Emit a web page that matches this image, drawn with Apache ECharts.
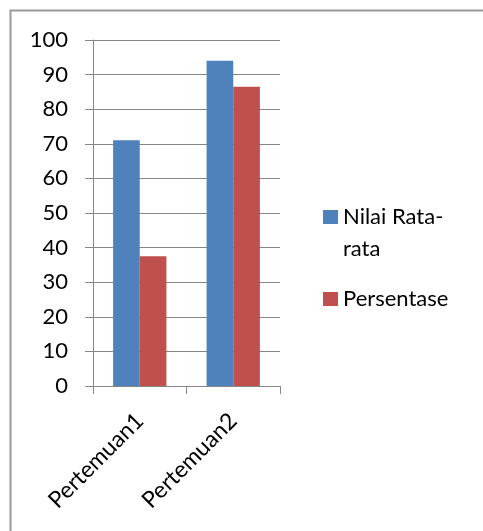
<!DOCTYPE html>
<html>
<head>
<meta charset="utf-8">
<script src="https://cdn.jsdelivr.net/npm/echarts@6/dist/echarts.min.js"></script>
<style>
  html, body { margin: 0; padding: 0; background: #ffffff; }
  #chart { width: 483px; height: 531px; }
</style>
</head>
<body>
<div id="chart"></div>
<script>
// Meeting categories and the two measured series
const categories = ['Pertemuan1', 'Pertemuan2'];
const nilaiRataRata = [71, 94];
const persentase = [37.5, 86.5];
const yTicks = { min: 0, max: 100, interval: 10 };

const FONT = 'Lato';
const GRAY = '#868686';

const chart = echarts.init(document.getElementById('chart'), null, { renderer: 'canvas' });

const legendText = { fontFamily: FONT, fontSize: 22, color: '#000', lineHeight: 32 };

chart.setOption({
  backgroundColor: '#ffffff',
  animation: false,
  textStyle: { fontFamily: FONT, color: '#000000' },
  graphic: [{
    // chart-area frame: only its top and left edges fall inside the page
    type: 'polyline',
    shape: { points: [[10.5, 540], [10.5, 10.5], [500, 10.5]] },
    style: { fill: 'none', stroke: '#9a9a9a', lineWidth: 2 },
    silent: true
  }],
  grid: { left: 93, top: 40, right: 203, bottom: 145, containLabel: false },
  legend: [{
    orient: 'vertical',
    left: 318,
    top: 164,
    itemWidth: 15,
    itemHeight: 14,
    icon: 'rect',
    data: ['Nilai Rata-rata'],
    // wrapped label; the leading blank line keeps the swatch level with the first line
    formatter: () => '\nNilai Rata-\nrata',
    textStyle: legendText
  }, {
    orient: 'vertical',
    left: 318,
    top: 278,
    itemWidth: 15,
    itemHeight: 14,
    icon: 'rect',
    data: ['Persentase'],
    textStyle: legendText
  }],
  xAxis: {
    type: 'category',
    data: categories,
    axisLine: { show: true, lineStyle: { color: GRAY, width: 1 } },
    axisTick: { show: true, length: 8, lineStyle: { color: GRAY } },
    axisLabel: { rotate: 45, fontFamily: FONT, fontSize: 23, color: '#000', margin: 31 }
  },
  yAxis: {
    type: 'value',
    min: yTicks.min,
    max: yTicks.max,
    interval: yTicks.interval,
    axisLine: { show: true, lineStyle: { color: GRAY, width: 1 } },
    axisTick: { show: true, length: 8, lineStyle: { color: GRAY } },
    axisLabel: { fontFamily: FONT, fontSize: 22, color: '#000', margin: 25 },
    splitLine: { show: true, lineStyle: { color: GRAY, width: 1 } }
  },
  series: [{
    name: 'Nilai Rata-rata',
    type: 'bar',
    data: nilaiRataRata,
    barWidth: '28.5%',
    barGap: '0%',
    itemStyle: { color: '#4F81BD' }
  }, {
    name: 'Persentase',
    type: 'bar',
    data: persentase,
    barWidth: '28.5%',
    barGap: '0%',
    itemStyle: { color: '#C0504D' }
  }]
});
</script>
</body>
</html>
